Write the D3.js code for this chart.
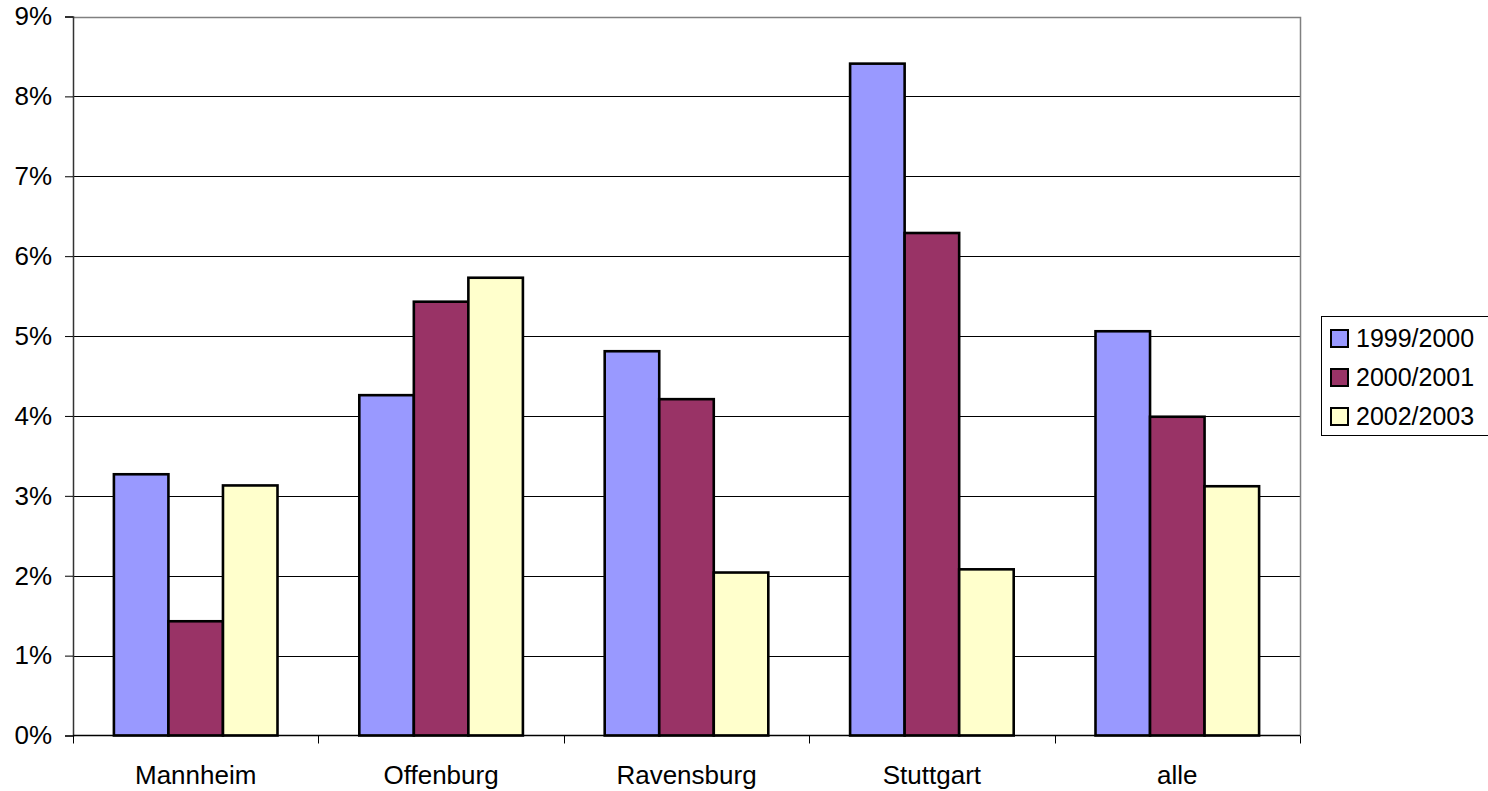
<!DOCTYPE html>
<html>
<head>
<meta charset="utf-8">
<script src="https://cdn.jsdelivr.net/npm/d3@7"></script>
<style>
  html, body { margin: 0; padding: 0; background: #fff; }
  svg { display: block; font-family: "Liberation Sans", Arial, sans-serif; }
</style>
</head>
<body>
<svg id="chart" width="1488" height="791"></svg>
<script>
// Anteil je Standort und Studienjahr
const categories = ["Mannheim", "Offenburg", "Ravensburg", "Stuttgart", "alle"];
const seriesNames = ["1999/2000", "2000/2001", "2002/2003"];
const values1999 = [0.0327, 0.0426, 0.0481, 0.0841, 0.0506];
const values2000 = [0.0143, 0.0543, 0.0421, 0.0629, 0.0399];
const values2002 = [0.0313, 0.0573, 0.0204, 0.0208, 0.0312];
const yTicks = [0, 0.01, 0.02, 0.03, 0.04, 0.05, 0.06, 0.07, 0.08, 0.09];
const colors = ["#9999FF", "#993366", "#FFFFCC"];

const seriesValues = [values1999, values2000, values2002];

const svg = d3.select("#chart");
const plot = { left: 73, right: 1300, top: 16.5, bottom: 735.5 };

const x0 = d3.scaleBand()
  .domain(categories)
  .range([plot.left, plot.right])
  .padding(0);

// gap width 150 % of a bar between groups
const x1 = d3.scaleBand()
  .domain(seriesNames)
  .range([0, x0.bandwidth()])
  .paddingInner(0)
  .paddingOuter(0.75);

const y = d3.scaleLinear()
  .domain([0, 0.09])
  .range([plot.bottom, plot.top]);

// horizontal gridlines
svg.append("g")
  .selectAll("line")
  .data(yTicks.slice(1))
  .join("line")
  .attr("x1", plot.left)
  .attr("x2", plot.right)
  .attr("y1", d => Math.round(y(d)) + 0.5)
  .attr("y2", d => Math.round(y(d)) + 0.5)
  .attr("stroke", "#000")
  .attr("stroke-width", 1);

// plot area frame (top and right)
svg.append("path")
  .attr("d", `M${plot.left},${Math.round(plot.top) + 0.5}H${plot.right + 0.5}V${plot.bottom}`)
  .attr("fill", "none")
  .attr("stroke", "#808080")
  .attr("stroke-width", 1.5);

// bars
const groups = svg.append("g")
  .selectAll("g")
  .data(categories)
  .join("g")
  .attr("transform", d => `translate(${x0(d)},0)`);

groups.selectAll("rect")
  .data((c, i) => seriesNames.map((s, k) => ({ s, k, v: seriesValues[k][i] })))
  .join("rect")
  .attr("x", d => x1(d.s))
  .attr("width", x1.bandwidth())
  .attr("y", d => y(d.v))
  .attr("height", d => y(0) - y(d.v))
  .attr("fill", d => colors[d.k])
  .attr("stroke", "#000")
  .attr("stroke-width", 2.6);

// y axis
const yAxis = d3.axisLeft(y)
  .tickValues(yTicks)
  .tickFormat(d => Math.round(d * 100) + "%")
  .tickSize(8)
  .tickPadding(13);

const gy = svg.append("g")
  .attr("transform", `translate(${plot.left},0)`)
  .call(yAxis);
gy.select(".domain").attr("stroke", "#333").attr("stroke-width", 1.5);
gy.selectAll(".tick line").attr("stroke", "#000");
gy.selectAll(".tick text")
  .attr("font-size", 26)
  .attr("fill", "#000")
  .attr("font-family", "Liberation Sans, Arial, sans-serif");

// x axis: ticks at category boundaries
const boundaries = categories.map(c => x0(c)).concat([plot.right]);
const gx = svg.append("g");
gx.append("line")
  .attr("x1", plot.left)
  .attr("x2", plot.right)
  .attr("y1", plot.bottom)
  .attr("y2", plot.bottom)
  .attr("stroke", "#000")
  .attr("stroke-width", 1.5);
gx.selectAll("line.tick")
  .data(boundaries)
  .join("line")
  .attr("class", "tick")
  .attr("x1", d => Math.round(d) + 0.5)
  .attr("x2", d => Math.round(d) + 0.5)
  .attr("y1", plot.bottom)
  .attr("y2", plot.bottom + 8)
  .attr("stroke", "#000");
gx.selectAll("text")
  .data(categories)
  .join("text")
  .attr("x", d => x0(d) + x0.bandwidth() / 2)
  .attr("y", 784)
  .attr("text-anchor", "middle")
  .attr("font-size", 26)
  .attr("fill", "#000")
  .text(d => d);

// legend
const legend = svg.append("g");
legend.append("rect")
  .attr("x", 1321.5)
  .attr("y", 316.5)
  .attr("width", 200)
  .attr("height", 119)
  .attr("fill", "#fff")
  .attr("stroke", "#000")
  .attr("stroke-width", 1);

const items = legend.selectAll("g.item")
  .data(seriesNames)
  .join("g")
  .attr("class", "item")
  .attr("transform", (d, i) => `translate(1331,${338 + i * 39})`);

items.append("rect")
  .attr("x", 0)
  .attr("y", -8)
  .attr("width", 17)
  .attr("height", 17)
  .attr("fill", (d, i) => colors[i])
  .attr("stroke", "#000")
  .attr("stroke-width", 2);

items.append("text")
  .attr("x", 25)
  .attr("y", 9)
  .attr("font-size", 25)
  .attr("fill", "#000")
  .text(d => d);
</script>
</body>
</html>
